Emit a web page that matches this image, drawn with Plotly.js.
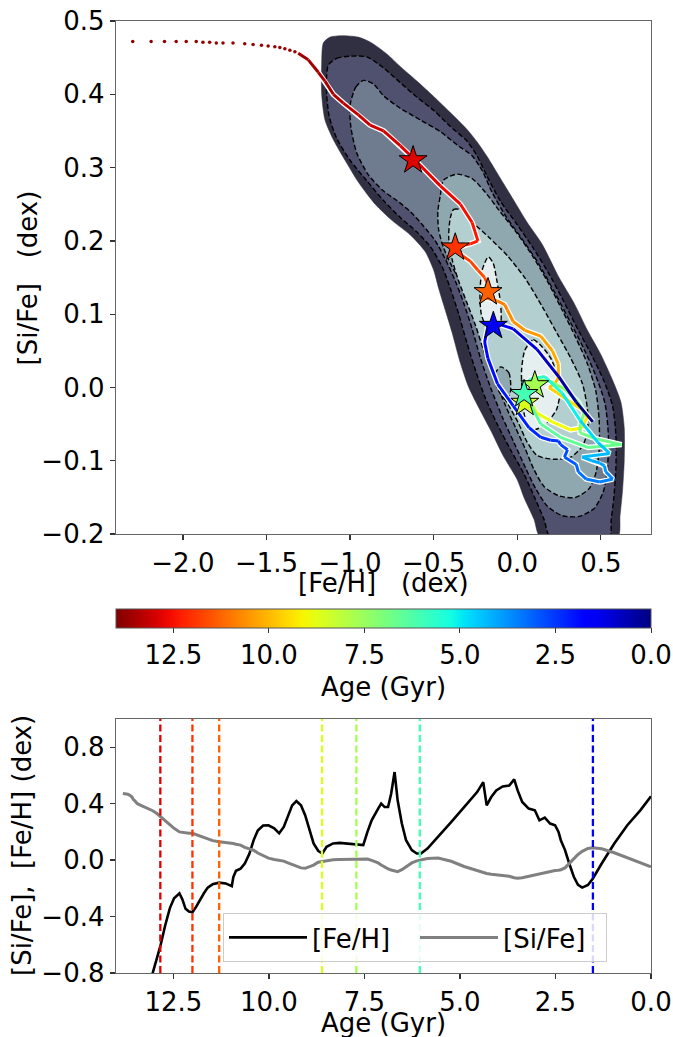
<!DOCTYPE html>
<html><head><meta charset="utf-8">
<script src="https://cdn.plot.ly/plotly-3.0.1.min.js"></script>
<style>html,body{margin:0;padding:0;background:#fff}#chart{width:673px;height:1037px}</style>
</head><body><div id="chart"></div>
<script>
// ---------------- data ----------------
const trackAge = [13.82,13.81,13.80,13.79,13.78,13.77,13.76,13.75,13.74,13.73,13.72,13.71,13.70,13.69,13.68,13.67,13.66,13.65,13.64,13.63,13.62,
  13.58,13.55,13.50,13.44,13.35,13.21,13.10,13.04,12.93,12.84,12.71,12.59,12.48,12.34,12.26,12.18,12.09,12.00,11.90,11.80,11.70,11.60,11.47,11.30,11.13,10.97,10.93,10.86,10.74,10.63,10.51,10.40,10.29,10.15,10.01,9.86,9.73,9.61,9.50,9.39,9.28,9.16,9.05,8.94,8.83,8.71,8.60,8.49,8.32,8.15,7.93,7.70,7.53,7.42,7.31,7.14,7.06,6.97,6.88,6.80,6.71,6.63,6.52,6.41,6.26,6.13,6.02,5.85,5.57,5.23,4.89,4.55,4.39,4.30,4.18,4.05,3.88,3.71,3.58,3.49,3.37,3.20,3.04,2.92,2.78,2.64,2.51,2.42,2.36,2.25,2.14,2.02,1.91,1.80,1.65,1.52,1.29,0.96,0.62,0.28,0.00];
const trackFeH = [-2.30,-2.19,-2.11,-2.04,-1.98,-1.92,-1.88,-1.84,-1.80,-1.76,-1.70,-1.63,-1.58,-1.53,-1.49,-1.45,-1.42,-1.39,-1.36,-1.33,-1.31,
  -1.25,-1.19,-1.15,-1.10,-1.04,-0.95,-0.88,-0.80,-0.70,-0.61,-0.46,-0.34,-0.27,-0.235,-0.28,-0.345,-0.365,-0.37,-0.33,-0.28,-0.235,-0.195,-0.17,-0.16,-0.165,-0.185,-0.12,-0.075,-0.06,-0.025,0.045,0.14,0.21,0.245,0.247,0.225,0.19,0.235,0.318,0.388,0.419,0.388,0.318,0.21,0.118,0.066,0.047,0.094,0.118,0.122,0.118,0.113,0.106,0.20,0.282,0.365,0.40,0.376,0.376,0.47,0.624,0.424,0.259,0.141,0.071,0.047,0.047,0.082,0.165,0.27,0.376,0.482,0.553,0.388,0.447,0.494,0.522,0.529,0.572,0.494,0.412,0.365,0.353,0.282,0.301,0.259,0.247,0.20,0.141,0.071,-0.024,-0.118,-0.176,-0.195,-0.176,-0.13,-0.024,0.118,0.247,0.353,0.452];
const trackSiFe = [0.472,0.472,0.472,0.472,0.472,0.472,0.471,0.471,0.470,0.470,0.470,0.469,0.468,0.467,0.466,0.465,0.464,0.462,0.460,0.458,0.456,
  0.447,0.430,0.418,0.400,0.388,0.372,0.358,0.350,0.330,0.310,0.275,0.250,0.225,0.200,0.196,0.193,0.191,0.190,0.180,0.172,0.160,0.150,0.138,0.130,0.125,0.122,0.118,0.113,0.106,0.090,0.078,0.070,0.050,0.032,0.014,0.005,0.000,-0.007,-0.020,-0.030,-0.040,-0.055,-0.058,-0.047,-0.035,-0.015,-0.010,0.000,0.003,0.004,0.006,0.008,0.012,0.008,-0.002,-0.020,-0.035,-0.050,-0.062,-0.070,-0.078,-0.082,-0.068,-0.050,-0.020,-0.005,0.003,0.012,0.015,-0.008,-0.045,-0.075,-0.090,-0.095,-0.100,-0.103,-0.107,-0.115,-0.125,-0.129,-0.125,-0.115,-0.105,-0.095,-0.085,-0.078,-0.073,-0.072,-0.068,-0.055,-0.025,0.005,0.040,0.062,0.083,0.088,0.080,0.052,0.015,-0.020,-0.047];

const starAge  = [12.84, 12.00, 11.30, 8.61, 7.71, 6.05, 1.52];
const starFeH  = [-0.623, -0.371, -0.175, 0.045, 0.105, 0.041, -0.143];
const starSiFe = [0.310, 0.191, 0.130, -0.021, 0.003, -0.009, 0.084];

const colorbarTicks = [12.5, 10.0, 7.5, 5.0, 2.5, 0.0];
const topXTicks = [-2.0, -1.5, -1.0, -0.5, 0.0, 0.5];
const topYTicks = [-0.2, -0.1, 0.0, 0.1, 0.2, 0.3, 0.4, 0.5];
const botXTicks = [12.5, 10.0, 7.5, 5.0, 2.5, 0.0];
const botYTicks = [-0.8, -0.4, 0.0, 0.4, 0.8];

const topXTitle = '[Fe/H]\u00a0\u00a0\u00a0(dex)';
const topYTitle = '[Si/Fe]\u00a0\u00a0\u00a0(dex)';
const botXTitle = 'Age (Gyr)';
const botYTitle = '[Si/Fe],\u00a0\u00a0[Fe/H] (dex)';
const colorbarTitle = 'Age (Gyr)';
const legendNames = ['[Fe/H]', '[Si/Fe]'];

// density contour regions (outer -> inner) as [FeH, SiFe]
const level1Outline = [[-1.16,0.470],[-1.12,0.478],[-1.05,0.480],[-0.95,0.478],[-0.87,0.470],[-0.78,0.455],[-0.70,0.438],[-0.60,0.418],[-0.50,0.397],[-0.40,0.375],[-0.30,0.352],[-0.24,0.335],[-0.18,0.315],[-0.10,0.285],[-0.02,0.255],[0.06,0.225],[0.15,0.195],[0.25,0.150],[0.34,0.115],[0.42,0.078],[0.50,0.045],[0.57,0.010],[0.62,-0.020],[0.64,-0.055],[0.64,-0.100],[0.63,-0.140],[0.615,-0.175],[0.60,-0.205],[0.14,-0.205],[0.10,-0.18],[0.04,-0.15],[0.00,-0.126],[-0.08,-0.095],[-0.16,-0.058],[-0.22,-0.032],[-0.29,0.0],[-0.34,0.033],[-0.39,0.075],[-0.43,0.105],[-0.47,0.135],[-0.50,0.16],[-0.55,0.185],[-0.64,0.208],[-0.75,0.228],[-0.85,0.25],[-0.95,0.28],[-1.03,0.31],[-1.10,0.338],[-1.15,0.365],[-1.17,0.40],[-1.17,0.44]];
const level2Outline = [[-1.13,0.44],[-1.08,0.449],[-1.0,0.452],[-0.90,0.451],[-0.80,0.436],[-0.70,0.416],[-0.60,0.396],[-0.50,0.378],[-0.40,0.356],[-0.30,0.336],[-0.24,0.316],[-0.18,0.288],[-0.10,0.254],[0.00,0.222],[0.09,0.192],[0.19,0.155],[0.29,0.112],[0.37,0.076],[0.45,0.042],[0.52,0.008],[0.57,-0.025],[0.59,-0.065],[0.59,-0.11],[0.578,-0.15],[0.562,-0.18],[0.55,-0.205],[0.20,-0.205],[0.16,-0.18],[0.10,-0.148],[0.04,-0.118],[-0.04,-0.085],[-0.12,-0.05],[-0.19,-0.015],[-0.245,0.02],[-0.30,0.06],[-0.35,0.10],[-0.40,0.135],[-0.45,0.165],[-0.52,0.192],[-0.60,0.212],[-0.70,0.232],[-0.80,0.255],[-0.90,0.282],[-1.0,0.31],[-1.08,0.34],[-1.125,0.37],[-1.14,0.40],[-1.14,0.425]];
const level3Outline = [[-1.0,0.385],[-0.965,0.41],[-0.92,0.419],[-0.86,0.414],[-0.80,0.398],[-0.70,0.381],[-0.58,0.365],[-0.46,0.349],[-0.36,0.331],[-0.27,0.316],[-0.21,0.296],[-0.15,0.266],[-0.07,0.234],[0.03,0.202],[0.13,0.168],[0.23,0.127],[0.32,0.088],[0.40,0.052],[0.47,0.016],[0.525,-0.022],[0.545,-0.065],[0.54,-0.108],[0.515,-0.142],[0.46,-0.165],[0.37,-0.176],[0.27,-0.175],[0.18,-0.162],[0.11,-0.138],[0.05,-0.11],[-0.02,-0.075],[-0.09,-0.04],[-0.16,0.0],[-0.22,0.04],[-0.27,0.08],[-0.32,0.115],[-0.37,0.145],[-0.43,0.175],[-0.49,0.2],[-0.56,0.22],[-0.64,0.24],[-0.72,0.255],[-0.80,0.268],[-0.89,0.29],[-0.96,0.32],[-0.995,0.355]];
const level4Outline = [[-0.46,0.262],[-0.44,0.283],[-0.36,0.291],[-0.27,0.285],[-0.19,0.266],[-0.11,0.242],[-0.01,0.213],[0.09,0.18],[0.18,0.145],[0.27,0.105],[0.35,0.068],[0.42,0.032],[0.47,-0.005],[0.49,-0.045],[0.49,-0.085],[0.47,-0.117],[0.43,-0.138],[0.35,-0.15],[0.25,-0.148],[0.16,-0.135],[0.10,-0.112],[0.05,-0.085],[-0.01,-0.055],[-0.07,-0.025],[-0.13,0.01],[-0.18,0.045],[-0.23,0.08],[-0.28,0.112],[-0.33,0.14],[-0.39,0.165],[-0.44,0.19],[-0.47,0.215],[-0.475,0.24]];
const level5Outline = [[-0.40,0.232],[-0.38,0.243],[-0.33,0.242],[-0.27,0.226],[-0.17,0.205],[-0.06,0.18],[0.05,0.148],[0.15,0.11],[0.24,0.073],[0.32,0.04],[0.39,0.005],[0.42,-0.03],[0.42,-0.06],[0.39,-0.08],[0.32,-0.095],[0.22,-0.098],[0.12,-0.093],[0.06,-0.075],[0.01,-0.05],[-0.05,-0.025],[-0.10,-0.005],[-0.15,0.02],[-0.20,0.05],[-0.25,0.085],[-0.30,0.115],[-0.35,0.145],[-0.39,0.175],[-0.41,0.205]];
const level4Island = [[-0.10,0.028],[-0.05,0.02],[-0.04,-0.005],[-0.065,-0.018],[-0.11,-0.005],[-0.14,0.015]];
const level6BlobA = [[-0.173,0.178],[-0.143,0.169],[-0.123,0.147],[-0.10,0.115],[-0.10,0.088],[-0.14,0.08],[-0.183,0.083],[-0.215,0.10],[-0.223,0.13],[-0.21,0.16]];
const level6BlobB = [[0.046,0.051],[0.096,0.065],[0.15,0.055],[0.20,0.04],[0.236,0.018],[0.255,-0.008],[0.235,-0.03],[0.19,-0.045],[0.136,-0.055],[0.08,-0.058],[0.045,-0.04],[0.03,-0.01],[0.026,0.024]];

// ---------------- styling helpers ----------------
const boneColors = ['rgb(48,48,66)','rgb(80,80,111)','rgb(111,123,143)','rgb(143,167,175)','rgb(180,207,207)','rgb(230,239,239)'];
function lerp(t, pts){ for(let i=1;i<pts.length;i++){ if(t<=pts[i][0]){const a=pts[i-1],b=pts[i];return a[1]+(b[1]-a[1])*(t-a[0])/(b[0]-a[0]);}} return pts[pts.length-1][1]; }
function jet(t){ t=Math.max(0,Math.min(1,t));
  const r=lerp(t,[[0,0],[0.35,0],[0.66,1],[0.89,1],[1,0.5]]);
  const g=lerp(t,[[0,0],[0.125,0],[0.375,1],[0.64,1],[0.91,0],[1,0]]);
  const b=lerp(t,[[0,0.5],[0.11,1],[0.34,1],[0.65,0],[1,0]]);
  return 'rgb('+Math.round(r*255)+','+Math.round(g*255)+','+Math.round(b*255)+')'; }
const AGE_MAX = 14;
const ageColor = a => jet(a/AGE_MAX);
const jetScale = []; for(let i=0;i<=40;i++){const p=i/40; jetScale.push([p, jet(1-p)]);}
const fmt = v => (v < 0 ? '\u2212' : '') + Math.abs(v).toFixed(1);

const FONT = 'DejaVu Sans';
const FS = 26;
const DASH = '5px,2.5px';
const SPARSE_AGE = 13.62; // older samples drawn as separate dots

const traces = [];
function region(outline, color, outlined){
  const pts = outline.concat([outline[0]]);
  traces.push({type:'scatter', mode:'lines', x:pts.map(p=>p[0]), y:pts.map(p=>p[1]), fill:'toself', fillcolor:color,
    line:{color: outlined?'black':color, width: outlined?1.4:0.5, dash: outlined?DASH:'solid', shape:'spline', smoothing:0.7},
    xaxis:'x', yaxis:'y', hoverinfo:'skip', showlegend:false});
}
region(level1Outline, boneColors[0], false);
region(level2Outline, boneColors[1], true);
region(level3Outline, boneColors[2], true);
region(level4Outline, boneColors[3], true);
region(level5Outline, boneColors[4], true);
region(level4Island, boneColors[3], true);
region(level6BlobA, boneColors[5], true);
region(level6BlobB, boneColors[5], true);

// track: dots for sparse early part, white-edged coloured line after
const sparseIdx = trackAge.map((a,i)=>i).filter(i=>trackAge[i]>SPARSE_AGE);
traces.push({type:'scatter', mode:'markers', x:sparseIdx.map(i=>trackFeH[i]), y:sparseIdx.map(i=>trackSiFe[i]),
  marker:{size:3.5, color:sparseIdx.map(i=>ageColor(trackAge[i]))}, xaxis:'x', yaxis:'y', hoverinfo:'skip', showlegend:false});
const lineIdx = trackAge.map((a,i)=>i).filter(i=>trackAge[i]<=SPARSE_AGE);
traces.push({type:'scatter', mode:'lines', x:lineIdx.map(i=>trackFeH[i]), y:lineIdx.map(i=>trackSiFe[i]),
  line:{color:'white', width:5.5}, xaxis:'x', yaxis:'y', hoverinfo:'skip', showlegend:false});
for(let k=0;k<lineIdx.length-1;k++){
  const i=lineIdx[k], j=lineIdx[k+1];
  traces.push({type:'scatter', mode:'lines', x:[trackFeH[i],trackFeH[j]], y:[trackSiFe[i],trackSiFe[j]],
    line:{color:ageColor((trackAge[i]+trackAge[j])/2), width:3}, xaxis:'x', yaxis:'y', hoverinfo:'skip', showlegend:false});
}
// stars (carry the colour bar)
traces.push({type:'scatter', mode:'markers', x:starFeH, y:starSiFe,
  marker:{symbol:'star', size:21, color:starAge.map(a=>-a), colorscale:jetScale, cmin:-AGE_MAX, cmax:0,
    line:{color:'black', width:1},
    showscale:true,
    colorbar:{orientation:'h', x:0, xanchor:'left', len:535, lenmode:'pixels', thickness:19, thicknessmode:'pixels',
      y:0.3824, yanchor:'top', xpad:0, ypad:0, outlinewidth:1, outlinecolor:'#555',
      tickvals:colorbarTicks.map(v=>-v), ticktext:colorbarTicks.map(fmt), ticks:'outside', ticklen:5, tickcolor:'#333',
      tickfont:{family:FONT, size:FS, color:'black'},
      title:{text:colorbarTitle, side:'bottom', font:{family:FONT, size:FS, color:'black'}}}},
  xaxis:'x', yaxis:'y', hoverinfo:'skip', showlegend:false});

// bottom panel
traces.push({type:'scatter', mode:'lines', name:legendNames[0], x:trackAge, y:trackFeH, line:{color:'black', width:2.6}, xaxis:'x2', yaxis:'y2', hoverinfo:'skip'});
traces.push({type:'scatter', mode:'lines', name:legendNames[1], x:trackAge, y:trackSiFe, line:{color:'#808080', width:3}, xaxis:'x2', yaxis:'y2', hoverinfo:'skip'});

const shapes = starAge.map(a=>({type:'line', xref:'x2', yref:'y2 domain', x0:a, x1:a, y0:0, y1:1,
  line:{color:ageColor(a), width:2.3, dash:'7px,3.5px'}}));

const axisCommon = {showline:true, mirror:true, linecolor:'#666', linewidth:1.3, ticks:'outside', ticklen:5, tickwidth:1.3, tickcolor:'#333',
  showgrid:false, zeroline:false, tickfont:{family:FONT, size:FS, color:'black'}, automargin:false};

const titleFont = {family:FONT, size:FS, color:'black'};
const annotations = [
  {text:topXTitle, xref:'paper', yref:'paper', x:0.5, y:0.4097, xanchor:'center', yanchor:'middle', showarrow:false, font:titleFont},
  {text:topYTitle, xref:'paper', yref:'paper', x:-0.1645, y:0.7306, xanchor:'center', yanchor:'middle', textangle:-90, showarrow:false, font:titleFont},
  {text:botYTitle, xref:'paper', yref:'paper', x:-0.1757, y:0.1334, xanchor:'center', yanchor:'middle', textangle:-90, showarrow:false, font:titleFont},
  {text:botXTitle, xref:'paper', yref:'paper', x:0.5, y:-0.0525, xanchor:'center', yanchor:'middle', showarrow:false, font:titleFont}
];

const layout = {
  width:673, height:1037, margin:{l:116, r:22, t:21, b:64, autoexpand:false}, paper_bgcolor:'white', plot_bgcolor:'white',
  font:{family:FONT, size:FS, color:'black'}, showlegend:true, hovermode:false,
  xaxis:Object.assign({}, axisCommon, {domain:[0,1], range:[-2.4,0.8], tickvals:topXTicks, ticktext:topXTicks.map(fmt), anchor:'y'}),
  yaxis:Object.assign({}, axisCommon, {domain:[0.4611,1], range:[-0.2,0.5], tickvals:topYTicks, ticktext:topYTicks.map(fmt), anchor:'x'}),
  xaxis2:Object.assign({}, axisCommon, {domain:[0,1], range:[14,0], tickvals:botXTicks, ticktext:botXTicks.map(fmt), anchor:'y2'}),
  yaxis2:Object.assign({}, axisCommon, {domain:[0,0.2668], range:[-0.8,1.0], tickvals:botYTicks, ticktext:botYTicks.map(fmt), anchor:'x2'}),
  legend:{orientation:'h', x:0.2, y:0.063, xanchor:'left', yanchor:'top', bgcolor:'rgba(255,255,255,0.85)',
    bordercolor:'#ccc', borderwidth:1, font:{family:FONT, size:FS, color:'black'}, itemwidth:78, entrywidth:98, entrywidthmode:'pixels'},
  shapes:shapes, annotations:annotations
};
Plotly.newPlot('chart', traces, layout, {staticPlot:true, displayModeBar:false});
</script></body></html>
